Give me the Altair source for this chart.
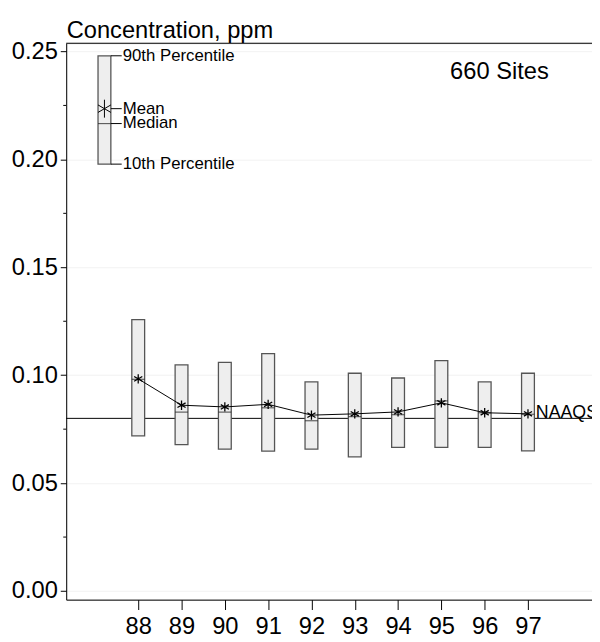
import altair as alt
import pandas as pd

years = [88, 89, 90, 91, 92, 93, 94, 95, 96, 97]
p90 = [0.1258, 0.1048, 0.1059, 0.1100, 0.0969, 0.1009, 0.0987, 0.1068, 0.0969, 0.1009]
p10 = [0.0719, 0.0678, 0.0657, 0.0648, 0.0657, 0.0622, 0.0666, 0.0666, 0.0666, 0.0649]
means = [0.0983, 0.0861, 0.0853, 0.0865, 0.0815, 0.0821, 0.0830, 0.0872, 0.0826, 0.0821]
medians = [0.0981, 0.0829, 0.0829, 0.0849, 0.0789, 0.0808, 0.0817, 0.0881, 0.0826, 0.0819]

naaqs = 0.08
y_major = [0.0, 0.05, 0.10, 0.15, 0.20, 0.25]
y_minor = [0.025, 0.075, 0.125, 0.175, 0.225]

legend_labels = ["90th Percentile", "Mean", "Median", "10th Percentile"]
legend_values = [0.2480, 0.2235, 0.2166, 0.1978]
legend_dy = [0, -2, 2, 0]
legend_year = 87.22

FONT = "Liberation Sans"
W, H = 533, 564
PXX = 43.9
XDOM = [86.337, 86.337 + W / PXX]
YDOM = [-0.004, 0.2538]

df = pd.DataFrame({"year": years, "p90": p90, "p10": p10, "mean": means, "median": medians})

xs = alt.Scale(domain=XDOM, nice=False, zero=False, padding=0)
ys = alt.Scale(domain=YDOM, nice=False, zero=False, padding=0)

STAR = "M0,-1L0,1M-0.87,-0.5L0.87,0.5M-0.87,0.5L0.87,-0.5"
STAR_L = "M0,-1L0,1M-0.72,-0.42L0.72,0.42M-0.72,0.42L0.72,-0.42"

base = alt.Chart(df)

boxes = base.mark_bar(size=13, fill="#eeeeee", stroke="#555555", strokeWidth=1.3, orient="vertical").encode(
    x=alt.X("year:Q", scale=xs,
            axis=alt.Axis(values=years, format="d", title=None, grid=False, tickSize=10,
                          tickColor="black", domainColor="black", labelFontSize=24,
                          labelFont=FONT, labelColor="black", labelPadding=5, tickWidth=1)),
    y=alt.Y("p10:Q", scale=ys,
            axis=alt.Axis(values=y_major, format=".2f", title="Concentration, ppm",
                          titleAngle=0, titleX=0, titleY=-6, titleAlign="left",
                          titleBaseline="alphabetic", titleFont=FONT, titleFontSize=24,
                          titleFontWeight="normal", titleColor="black",
                          grid=True, gridColor="#f2f2f2", tickSize=6, tickColor="black",
                          domainColor="black", labelFontSize=24, labelFont=FONT,
                          labelColor="black", labelPadding=3)),
    y2="p90:Q",
)

med = base.mark_tick(orient="horizontal", size=13, thickness=1.2, color="#222222").encode(
    x=alt.X("year:Q", scale=xs), y=alt.Y("median:Q", scale=ys)
)

line = base.mark_line(color="black", strokeWidth=1).encode(
    x=alt.X("year:Q", scale=xs), y=alt.Y("mean:Q", scale=ys)
)

stars = base.mark_point(shape=STAR, size=90, filled=False, stroke="black", strokeWidth=1.3, opacity=1).encode(
    x=alt.X("year:Q", scale=xs), y=alt.Y("mean:Q", scale=ys)
)

naaqs_rule = alt.Chart(pd.DataFrame({"v": [naaqs]})).mark_rule(color="black", strokeWidth=1).encode(
    y=alt.Y("v:Q", scale=ys)
)
naaqs_text = alt.Chart(pd.DataFrame({"v": [naaqs], "t": ["NAAQS"]})).mark_text(
    align="left", baseline="alphabetic", font=FONT, fontSize=18, color="black", dx=8
).encode(x=alt.datum(97.0, scale=xs), y=alt.Y("v:Q", scale=ys), text="t:N")

sites = alt.Chart(pd.DataFrame({"t": ["660 Sites"]})).mark_text(
    align="center", baseline="middle", font=FONT, fontSize=24, color="black"
).encode(x=alt.datum(96.34, scale=xs), y=alt.datum(0.2405, scale=ys), text="t:N")

minor = alt.Chart(pd.DataFrame({"v": y_minor})).mark_rule(color="black", strokeWidth=1).encode(
    x=alt.value(-3), x2=alt.value(0), y=alt.Y("v:Q", scale=ys)
)

top_border = alt.Chart(pd.DataFrame({"v": [0]})).mark_rule(color="black", strokeWidth=1.2).encode(
    x=alt.value(0), x2=alt.value(W), y=alt.value(0)
)

leg = pd.DataFrame({"label": legend_labels, "v": legend_values, "dy": legend_dy})
leg_box = alt.Chart(pd.DataFrame({"lo": [legend_values[3]], "hi": [legend_values[0]]})).mark_bar(
    size=13, fill="#eeeeee", stroke="#555555", strokeWidth=1.3, orient="vertical"
).encode(x=alt.datum(legend_year, scale=xs), y=alt.Y("lo:Q", scale=ys), y2="hi:Q")
leg_med = alt.Chart(pd.DataFrame({"v": [legend_values[2]]})).mark_tick(
    orient="horizontal", size=13, thickness=1.2, color="#222222"
).encode(x=alt.datum(legend_year, scale=xs), y=alt.Y("v:Q", scale=ys))
leg_star = alt.Chart(pd.DataFrame({"v": [legend_values[1]]})).mark_point(
    shape=STAR_L, size=330, filled=False, stroke="black", strokeWidth=1, opacity=1
).encode(x=alt.datum(legend_year, scale=xs), y=alt.Y("v:Q", scale=ys))
leader_x0 = legend_year + 6.5 / PXX
leader_x1 = legend_year + 17.5 / PXX
leg_lines = alt.Chart(leg).mark_rule(color="black", strokeWidth=1).encode(
    x=alt.datum(leader_x0, scale=xs), x2=alt.datum(leader_x1), y=alt.Y("v:Q", scale=ys)
)
leg_text = alt.Chart(leg).mark_text(
    align="left", baseline="middle", font=FONT, fontSize=17, color="black", dx=1
).encode(x=alt.datum(leader_x1, scale=xs), y=alt.Y("v:Q", scale=ys), text="label:N",
         yOffset=alt.YOffset("dy:Q", scale=None))

chart = alt.layer(
    naaqs_rule, boxes, med, line, stars, naaqs_text, sites, minor, top_border,
    leg_box, leg_med, leg_star, leg_lines, leg_text
).properties(
    width=W, height=H,
    autosize=alt.AutoSizeParams(type="none"),
    padding={"left": 59, "top": 31, "right": 0, "bottom": 100},
).configure_view(stroke=None).configure(background="white")

chart.save("out.html", embed_options={"renderer": "svg", "actions": False})
